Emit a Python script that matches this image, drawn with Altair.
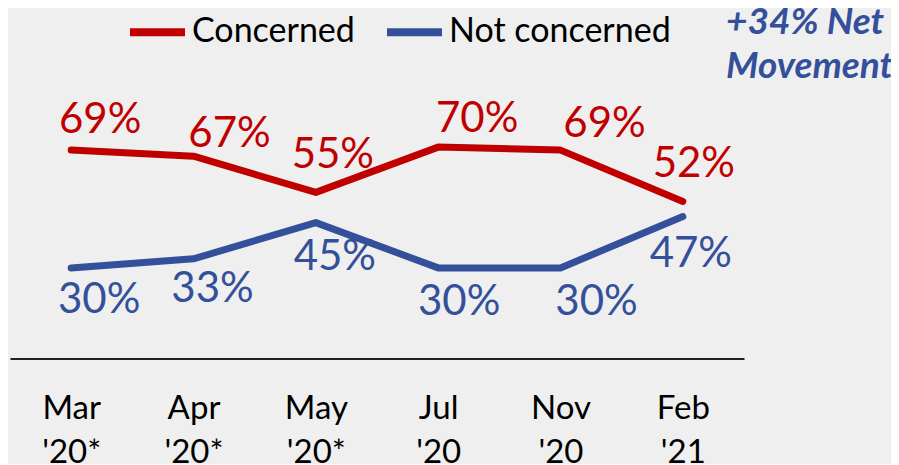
import altair as alt
import pandas as pd

months = ["Mar", "Apr", "May", "Jul", "Nov", "Feb"]
years = ["'20*", "'20*", "'20*", "'20", "'20", "'21"]
concerned = [69, 67, 55, 70, 69, 52]
not_concerned = [30, 33, 45, 30, 30, 47]
series = ["Concerned", "Not concerned"]
annotation = ["+34% Net", "Movement"]

# label offsets (pixels) for each data label, style only
red_dx = [29, 36, 17, 39, 44, 11]
red_dy = [-17, -9, -24, -15, -13, -24]
blue_dx = [28, 19, 19, 21, 36, 8]
blue_dy = [45, 43, 47, 47, 47, 50]

RED = "#C00000"
BLUE = "#34509A"
FONT = "Lato"

periods = [f"{m}\n{y}" for m, y in zip(months, years)]
rows = []
for p, c, n in zip(periods, concerned, not_concerned):
    rows.append({"period": p, "series": series[0], "value": c})
    rows.append({"period": p, "series": series[1], "value": n})
df = pd.DataFrame(rows)

x = alt.X(
    "period:N",
    sort=periods,
    scale=alt.Scale(type="point", padding=0.5),
    axis=alt.Axis(
        title=None,
        labelExpr="split(datum.label, '\\n')",
        labelAngle=0,
        labelFont=FONT,
        labelFontSize=33,
        labelColor="#000000",
        labelBaseline="top",
        labelPadding=34,
        labelLineHeight=44,
        ticks=False,
        grid=False,
        domainColor="#222222",
        domainWidth=2,
    ),
)
y = alt.Y("value:Q", scale=alt.Scale(domain=[0, 100]), axis=None)

lines = alt.Chart(df).mark_line(strokeWidth=7, strokeCap="round", strokeJoin="round").encode(
    x=x,
    y=y,
    color=alt.Color(
        "series:N",
        scale=alt.Scale(domain=series, range=[RED, BLUE]),
        legend=alt.Legend(
            title=None,
            orient="none",
            direction="horizontal",
            legendX=116,
            legendY=-56,
            symbolType="stroke",
            symbolSize=3025,
            symbolStrokeWidth=8,
            labelFont=FONT,
            labelFontSize=34,
            labelColor="#000000",
            labelOffset=3,
            labelLimit=0,
            columnPadding=16,
            padding=0,
        ),
    ),
)

layers = [lines]
for i, p in enumerate(periods):
    for s, vals, col, dxs, dys in [
        (series[0], concerned, RED, red_dx, red_dy),
        (series[1], not_concerned, BLUE, blue_dx, blue_dy),
    ]:
        sub = df[(df.period == p) & (df.series == s)]
        layers.append(
            alt.Chart(sub).mark_text(
                font=FONT, fontSize=42, color=col, align="center",
                baseline="alphabetic", dx=dxs[i], dy=dys[i],
            ).transform_calculate(lbl="datum.value + '%'").encode(
                x=alt.X("period:N", sort=periods, scale=alt.Scale(type="point", padding=0.5)),
                y=y,
                text="lbl:N",
            )
        )

ann = alt.Chart(pd.DataFrame({"t": [annotation]})).mark_text(
    font=FONT, fontSize=37, fontWeight="bold", fontStyle="italic",
    color=BLUE, align="left", baseline="top", lineHeight=44,
).encode(x=alt.value(716), y=alt.value(-52), text="t")
layers.append(ann)

chart = alt.layer(*layers).properties(
    width=734,
    height=302,
    background="#EFEFEF",
    padding={"left": 2, "top": 48.5, "right": 147, "bottom": 105.5},
    autosize=alt.AutoSizeParams(type="none"),
).configure_view(stroke=None)

chart.save("out.html", embed_options={"renderer": "svg", "actions": False})
